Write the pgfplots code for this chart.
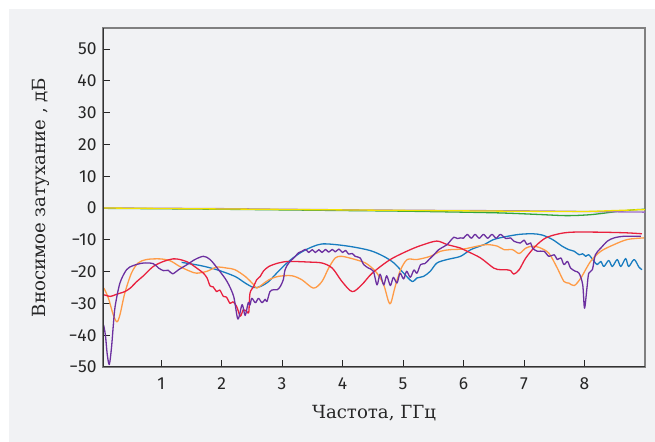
\documentclass[border=0pt]{standalone}
\usepackage{pgfplots}
\pgfplotsset{compat=1.18}
\usepackage{fontspec}
\setmainfont{DejaVu Serif}
\newfontfamily\tickfont{Fira Sans}
\definecolor{bg}{RGB}{241,242,244}
\definecolor{cpurple}{RGB}{108,48,160}
\definecolor{cred}{RGB}{233,33,62}
\definecolor{corange}{RGB}{255,155,70}
\definecolor{cblue}{RGB}{24,124,192}
\definecolor{cyellow}{RGB}{242,226,0}
\definecolor{cgreen}{RGB}{50,165,60}
\definecolor{clpurple}{RGB}{155,110,200}
\begin{document}
\begin{tikzpicture}
\useasboundingbox (0,0) rectangle (655bp,442bp);
\fill[bg] (9bp,0) rectangle (655bp,433bp);
\begin{axis}[
  at={(103bp,75bp)}, anchor=south west,
  scale only axis, width=542bp, height=339bp,
  xmin=0.04, xmax=9.0, ymin=-50, ymax=56.6,
  xtick={1,2,3,4,5,6,7,8}, xticklabels={1,2,3,4,5,6,7,8},
  ytick={-50,-40,-30,-20,-10,0,10,20,30,40,50},
  yticklabels={−50,−40,−30,−20,−10,0,10,20,30,40,50},
  xtick pos=bottom, ytick pos=left, tick align=inside,
  major tick length=7bp,
  tick style={black!85, line width=0.8bp},
  axis line style={draw=black!50, line width=1.2bp},
  axis background/.style={fill=bg},
  tick label style={font=\tickfont\fontsize{17.5}{20}\selectfont, text=black!85},
  yticklabel style={xshift=-3bp},
  xticklabel style={yshift=-7bp},
  xlabel={Частота, ГГц},
  ylabel={Вносимое затухание , дБ},
  label style={font=\fontsize{18.2}{21}\selectfont, text=black!85},
  xlabel style={at={(axis description cs:0.5,-0.135)}, anchor=center},
  ylabel style={at={(axis description cs:-0.114,0.5)}, anchor=center, rotate=0},
  every axis plot/.append style={line width=1.3bp, line join=round, mark=none, smooth, tension=0.5},
  clip=true,
]
% near-zero lines
\addplot[cgreen] coordinates {(0.04,-0.1) (2,-0.4) (4,-0.8) (5,-1.0) (6.5,-1.5) (7.2,-2.0) (7.7,-2.4) (8.1,-2.1) (8.5,-1.2) (8.8,-0.6) (9,-0.4)};
\addplot[clpurple] coordinates {(0.04,0) (2,-0.2) (3,-0.4) (5,-0.7) (7,-0.9) (8,-1.1) (9,-1.3)};
\addplot[cyellow] coordinates {(0.04,0) (2,-0.3) (4,-0.6) (6,-0.9) (7.5,-1.1) (8.0,-1.1) (8.5,-0.8) (9,-0.5)};
% blue
\addplot[cblue] coordinates {(1.34,-17.1) (1.65,-18.1) (1.92,-19.4) (2.22,-21.5) (2.39,-23.6) (2.53,-25.0) (2.64,-24.7) (2.78,-23.1) (2.94,-19.9) (3.11,-16.8) (3.30,-14.1) (3.50,-12.2) (3.66,-11.3) (3.88,-11.5) (4.16,-12.2) (4.46,-13.4) (4.68,-15.2) (4.85,-17.3) (5.01,-20.5) (5.15,-23.1) (5.23,-22.0) (5.34,-21.5) (5.45,-19.9) (5.56,-17.3) (5.73,-16.2) (5.95,-15.2) (6.12,-13.1) (6.34,-11.5) (6.50,-9.9) (6.70,-9.0) (6.92,-8.3) (7.14,-8.1) (7.30,-8.5) (7.47,-9.9) (7.63,-12.0) (7.74,-13.1) (7.83,-13.6) (7.91,-14.7) (7.97,-14.4) (8.02,-15.2) (8.07,-14.7) (8.16,-16.8) (8.21,-17.8) (8.27,-16.8) (8.32,-18.4) (8.40,-16.5) (8.46,-18.4) (8.54,-16.2) (8.60,-18.4) (8.68,-15.9) (8.73,-18.4) (8.82,-16.2) (8.90,-18.6) (8.95,-19.4)};
% orange
\addplot[corange] coordinates {(0.056,-25.2) (0.13,-28.4) (0.21,-33.6) (0.27,-35.8) (0.32,-33.6) (0.40,-26.8) (0.51,-20.5) (0.62,-17.3) (0.76,-16.2) (0.98,-16.0) (1.15,-16.6) (1.31,-18.4) (1.48,-19.9) (1.59,-20.5) (1.76,-19.9) (1.92,-18.6) (2.09,-18.9) (2.22,-19.4) (2.39,-21.5) (2.53,-24.1) (2.58,-25.2) (2.67,-24.1) (2.78,-22.6) (2.94,-21.5) (3.16,-21.3) (3.33,-22.6) (3.52,-25.2) (3.66,-23.1) (3.77,-18.9) (3.88,-15.7) (3.99,-15.2) (4.21,-16.2) (4.38,-17.3) (4.49,-18.9) (4.57,-20.5) (4.68,-24.1) (4.76,-29.4) (4.80,-29.8) (4.87,-24.7) (4.96,-19.4) (5.07,-16.2) (5.23,-16.2) (5.45,-15.2) (5.62,-13.6) (5.78,-13.1) (6.0,-12.9) (6.23,-12.0) (6.39,-11.5) (6.56,-12.0) (6.67,-13.1) (6.81,-13.1) (6.92,-14.3) (7.03,-12.6) (7.14,-12.0) (7.25,-12.4) (7.41,-14.2) (7.55,-18.9) (7.66,-23.1) (7.74,-23.6) (7.83,-24.4) (7.94,-22.0) (8.10,-16.8) (8.27,-13.6) (8.49,-11.5) (8.71,-9.9) (8.98,-9.4)};
% red
\addplot[cred] coordinates {(0.06,-27.3) (0.16,-27.8) (0.24,-27.3) (0.32,-26.8) (0.40,-26.3) (0.49,-25.2) (0.60,-23.1) (0.71,-21.3) (0.87,-18.4) (1.04,-16.8) (1.20,-16.0) (1.31,-16.2) (1.45,-17.1) (1.59,-18.9) (1.70,-20.5) (1.76,-22.0) (1.81,-24.5) (1.86,-24.8) (1.92,-26.3) (1.97,-25.8) (2.03,-27.8) (2.08,-28.0) (2.14,-30.0) (2.19,-29.5) (2.25,-31.0) (2.31,-34.0) (2.36,-32.0) (2.42,-32.6) (2.45,-32.8) (2.47,-26.8) (2.53,-24.7) (2.58,-22.6) (2.64,-21.5) (2.69,-19.9) (2.78,-18.4) (2.94,-17.3) (3.11,-16.8) (3.44,-17.0) (3.66,-17.3) (3.83,-18.9) (3.99,-23.1) (4.16,-26.3) (4.32,-24.1) (4.49,-20.5) (4.79,-16.2) (5.12,-13.1) (5.34,-11.5) (5.56,-10.4) (5.73,-11.5) (5.95,-12.6) (6.06,-13.6) (6.28,-15.7) (6.50,-18.9) (6.61,-19.4) (6.70,-19.4) (6.78,-19.7) (6.83,-20.8) (6.92,-19.4) (7.03,-15.7) (7.19,-12.0) (7.36,-9.4) (7.58,-8.1) (7.80,-7.6) (8.24,-7.6) (8.68,-7.8) (8.95,-8.1)};
% purple
\addplot[cpurple] coordinates {(0.05,-36.8) (0.08,-40) (0.11,-46) (0.144,-49.2) (0.18,-44) (0.21,-37) (0.24,-31) (0.32,-23.6) (0.43,-19.4) (0.54,-18.1) (0.71,-17.3) (0.87,-17.5) (0.96,-18.9) (1.04,-19.7) (1.12,-19.6) (1.19,-20.7) (1.29,-19.4) (1.43,-17.8) (1.56,-16.2) (1.70,-15.2) (1.81,-16.2) (1.95,-19.4) (2.09,-23.1) (2.20,-27.8) (2.27,-34.9) (2.34,-30.4) (2.39,-33.8) (2.44,-29.8) (2.47,-30.5) (2.50,-28.4) (2.56,-29.8) (2.61,-28.4) (2.67,-29.8) (2.72,-28.7) (2.75,-29.4) (2.80,-26.3) (2.86,-25.7) (2.92,-25.7) (2.97,-24.7) (3.02,-22.6) (3.05,-19.4) (3.11,-17.3) (3.22,-15.2) (3.27,-14.1) (3.33,-13.6) (3.39,-13.0) (3.44,-14.0) (3.50,-13.1) (3.55,-14.0) (3.61,-13.1) (3.66,-14.0) (3.72,-13.0) (3.77,-13.9) (3.83,-13.0) (3.88,-13.8) (3.94,-12.9) (4.00,-14.0) (4.05,-13.3) (4.10,-14.5) (4.16,-14.3) (4.21,-15.2) (4.29,-15.7) (4.35,-17.8) (4.43,-18.9) (4.51,-19.9) (4.57,-24.2) (4.62,-20.8) (4.68,-24.2) (4.73,-21.3) (4.79,-24.4) (4.84,-21.8) (4.90,-23.6) (4.95,-20.5) (5.01,-22.3) (5.06,-19.9) (5.12,-21.8) (5.18,-19.5) (5.23,-20.5) (5.29,-17.8) (5.36,-17.5) (5.43,-16.2) (5.51,-14.7) (5.59,-13.1) (5.67,-12.2) (5.73,-11.5) (5.78,-10.4) (5.84,-9.2) (5.90,-9.6) (5.95,-9.4) (6.00,-9.5) (6.06,-8.3) (6.13,-9.5) (6.19,-8.3) (6.26,-9.5) (6.33,-8.3) (6.40,-9.5) (6.47,-8.3) (6.54,-9.5) (6.61,-8.3) (6.70,-9.6) (6.78,-9.4) (6.83,-10.4) (6.94,-11.0) (7.00,-10.1) (7.05,-11.5) (7.11,-11.0) (7.14,-12.6) (7.22,-13.6) (7.33,-13.6) (7.41,-15.2) (7.50,-14.7) (7.55,-16.2) (7.61,-15.7) (7.66,-17.8) (7.72,-16.8) (7.77,-18.9) (7.85,-19.9) (7.91,-20.5) (7.97,-24.1) (8.00,-31.5) (8.04,-25.2) (8.07,-20.5) (8.13,-19.4) (8.18,-14.7) (8.27,-12.6) (8.38,-10.4) (8.49,-9.4) (8.65,-8.9) (8.93,-8.9)};
\draw[black!80, line width=1.2bp] (rel axis cs:0,1) -- (rel axis cs:0,0) -- (rel axis cs:1,0);
\end{axis}
\end{tikzpicture}
\end{document}
